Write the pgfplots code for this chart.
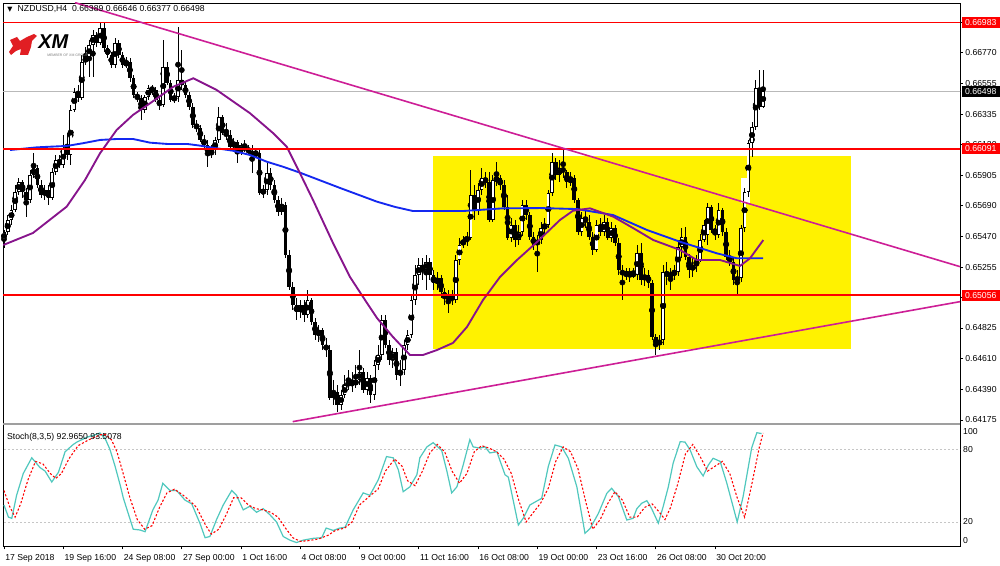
\documentclass[border=0pt]{standalone}
\usepackage{fontspec}
\setmainfont{Liberation Sans}
\newfontfamily\symfont{DejaVu Sans}
\usepackage{pgfplots}
\pgfplotsset{compat=1.18}
\usepackage{pgfplotstable}

\definecolor{trend}{RGB}{205,30,150}
\definecolor{maslow}{RGB}{20,40,240}
\definecolor{mafast}{RGB}{135,20,140}
\definecolor{stochmain}{RGB}{80,200,190}
\definecolor{xmred}{RGB}{225,30,35}
\newcommand\mtfont{\fontsize{6.5}{7.8}\selectfont}

% NZDUSD H4 candles: bar index, open, high, low, close
\pgfplotstableread{
i o h l c
0 0.65446 0.65517 0.65390 0.65503
1 0.65503 0.65623 0.65482 0.65588
2 0.65588 0.65694 0.65552 0.65658
3 0.65658 0.65835 0.65644 0.65786
4 0.65786 0.65884 0.65764 0.65856
5 0.65856 0.65870 0.65743 0.65786
6 0.65786 0.65814 0.65609 0.65729
7 0.65729 0.65941 0.65708 0.65906
8 0.65906 0.66061 0.65884 0.65955
9 0.65955 0.65976 0.65814 0.65835
10 0.65835 0.65870 0.65743 0.65764
11 0.65764 0.65835 0.65729 0.65800
12 0.65800 0.65835 0.65694 0.65743
13 0.65743 0.65955 0.65729 0.65927
14 0.65927 0.66047 0.65906 0.66012
15 0.66012 0.66047 0.65955 0.65976
16 0.65976 0.66188 0.65955 0.66096
17 0.66096 0.66202 0.66012 0.66047
18 0.66047 0.66400 0.65976 0.66365
19 0.66365 0.66520 0.66351 0.66492
20 0.66492 0.66541 0.66421 0.66450
21 0.66450 0.66753 0.66435 0.66704
22 0.66704 0.66810 0.66683 0.66739
23 0.66739 0.66859 0.66598 0.66824
24 0.66824 0.66930 0.66598 0.66895
25 0.66895 0.66916 0.66810 0.66838
26 0.66838 0.66980 0.66824 0.66944
27 0.66944 0.66980 0.66775 0.66803
28 0.66803 0.66824 0.66732 0.66753
29 0.66753 0.66775 0.66662 0.66683
30 0.66683 0.66874 0.66662 0.66838
31 0.66838 0.66859 0.66732 0.66753
32 0.66753 0.66775 0.66662 0.66683
33 0.66683 0.66739 0.66662 0.66704
34 0.66704 0.66732 0.66563 0.66591
35 0.66591 0.66612 0.66450 0.66471
36 0.66471 0.66492 0.66421 0.66450
37 0.66450 0.66471 0.66294 0.66365
38 0.66365 0.66471 0.66344 0.66457
39 0.66457 0.66541 0.66435 0.66520
40 0.66520 0.66541 0.66471 0.66506
41 0.66506 0.66527 0.66421 0.66435
42 0.66435 0.66457 0.66365 0.66400
43 0.66400 0.66859 0.66386 0.66669
44 0.66669 0.66704 0.66541 0.66556
45 0.66556 0.66577 0.66421 0.66435
46 0.66435 0.66485 0.66414 0.66457
47 0.66457 0.66951 0.66421 0.66577
48 0.66577 0.66789 0.66506 0.66541
49 0.66541 0.66563 0.66450 0.66471
50 0.66471 0.66492 0.66365 0.66386
51 0.66386 0.66414 0.66238 0.66259
52 0.66259 0.66294 0.66209 0.66238
53 0.66238 0.66259 0.66139 0.66153
54 0.66153 0.66188 0.66096 0.66118
55 0.66118 0.66153 0.65962 0.66047
56 0.66047 0.66118 0.66026 0.66082
57 0.66082 0.66174 0.66047 0.66153
58 0.66153 0.66386 0.66132 0.66315
59 0.66315 0.66330 0.66188 0.66202
60 0.66202 0.66273 0.66153 0.66188
61 0.66188 0.66224 0.66082 0.66103
62 0.66103 0.66167 0.66082 0.66139
63 0.66139 0.66153 0.65990 0.66061
64 0.66061 0.66132 0.66047 0.66118
65 0.66118 0.66153 0.66068 0.66096
66 0.66096 0.66118 0.66047 0.66068
67 0.66068 0.66118 0.65920 0.66047
68 0.66047 0.66096 0.66026 0.66061
69 0.66061 0.66082 0.65764 0.65778
70 0.65778 0.65835 0.65743 0.65800
71 0.65800 0.65990 0.65764 0.65920
72 0.65920 0.65955 0.65800 0.65835
73 0.65835 0.65870 0.65708 0.65729
74 0.65729 0.65757 0.65616 0.65644
75 0.65644 0.65743 0.65623 0.65694
76 0.65694 0.65715 0.65319 0.65340
77 0.65340 0.65376 0.65093 0.65114
78 0.65114 0.65150 0.64952 0.64987
79 0.64987 0.65037 0.64881 0.64938
80 0.64938 0.65022 0.64895 0.64987
81 0.64987 0.65022 0.64867 0.64917
82 0.64917 0.65093 0.64895 0.65022
83 0.65022 0.65037 0.64846 0.64867
84 0.64867 0.64895 0.64740 0.64775
85 0.64775 0.64846 0.64726 0.64811
86 0.64811 0.64825 0.64669 0.64705
87 0.64705 0.64754 0.64620 0.64669
88 0.64669 0.64705 0.64316 0.64330
89 0.64330 0.64457 0.64281 0.64373
90 0.64373 0.64422 0.64231 0.64281
91 0.64281 0.64387 0.64245 0.64351
92 0.64351 0.64493 0.64330 0.64422
93 0.64422 0.64528 0.64387 0.64443
94 0.64443 0.64514 0.64373 0.64422
95 0.64422 0.64563 0.64401 0.64457
96 0.64457 0.64669 0.64422 0.64514
97 0.64514 0.64542 0.64365 0.64387
98 0.64387 0.64514 0.64351 0.64471
99 0.64471 0.64493 0.64295 0.64351
100 0.64351 0.64599 0.64316 0.64563
101 0.64563 0.64705 0.64528 0.64634
102 0.64634 0.64917 0.64599 0.64881
103 0.64881 0.64917 0.64683 0.64705
104 0.64705 0.64740 0.64563 0.64599
105 0.64599 0.64683 0.64542 0.64655
106 0.64655 0.64683 0.64457 0.64493
107 0.64493 0.64599 0.64415 0.64528
108 0.64528 0.64740 0.64493 0.64705
109 0.64705 0.64811 0.64669 0.64775
110 0.64775 0.65058 0.64754 0.65022
111 0.65022 0.65270 0.64987 0.65199
112 0.65199 0.65319 0.65128 0.65270
113 0.65270 0.65319 0.65164 0.65234
114 0.65234 0.65340 0.65093 0.65291
115 0.65291 0.65319 0.65164 0.65199
116 0.65199 0.65234 0.65093 0.65143
117 0.65143 0.65220 0.65093 0.65178
118 0.65178 0.65199 0.65037 0.65079
119 0.65079 0.65107 0.64987 0.65037
120 0.65037 0.65093 0.64931 0.65051
121 0.65051 0.65093 0.64987 0.65022
122 0.65022 0.65340 0.65001 0.65305
123 0.65305 0.65461 0.65270 0.65411
124 0.65411 0.65475 0.65390 0.65446
125 0.65446 0.65503 0.65404 0.65461
126 0.65461 0.65941 0.65446 0.65764
127 0.65764 0.65835 0.65588 0.65658
128 0.65658 0.65849 0.65623 0.65800
129 0.65800 0.65955 0.65764 0.65884
130 0.65884 0.65927 0.65814 0.65856
131 0.65856 0.65927 0.65574 0.65588
132 0.65588 0.65906 0.65574 0.65870
133 0.65870 0.65997 0.65828 0.65884
134 0.65884 0.65906 0.65800 0.65835
135 0.65835 0.65870 0.65658 0.65680
136 0.65680 0.65764 0.65446 0.65461
137 0.65461 0.65602 0.65432 0.65552
138 0.65552 0.65588 0.65397 0.65446
139 0.65446 0.65552 0.65411 0.65503
140 0.65503 0.65729 0.65475 0.65694
141 0.65694 0.65729 0.65588 0.65623
142 0.65623 0.65644 0.65446 0.65468
143 0.65468 0.65503 0.65376 0.65411
144 0.65411 0.65482 0.65220 0.65446
145 0.65446 0.65574 0.65418 0.65531
146 0.65531 0.65602 0.65489 0.65552
147 0.65552 0.65800 0.65531 0.65778
148 0.65778 0.66061 0.65757 0.65997
149 0.65997 0.66026 0.65870 0.65906
150 0.65906 0.66012 0.65856 0.65955
151 0.65955 0.66082 0.65884 0.65927
152 0.65927 0.65941 0.65814 0.65856
153 0.65856 0.65927 0.65828 0.65884
154 0.65884 0.65906 0.65708 0.65729
155 0.65729 0.65743 0.65482 0.65503
156 0.65503 0.65644 0.65475 0.65602
157 0.65602 0.65658 0.65531 0.65574
158 0.65574 0.65623 0.65446 0.65468
159 0.65468 0.65503 0.65340 0.65376
160 0.65376 0.65588 0.65362 0.65552
161 0.65552 0.65602 0.65475 0.65503
162 0.65503 0.65623 0.65475 0.65574
163 0.65574 0.65602 0.65446 0.65461
164 0.65461 0.65574 0.65432 0.65531
165 0.65531 0.65552 0.65404 0.65425
166 0.65425 0.65461 0.65199 0.65234
167 0.65234 0.65270 0.65022 0.65199
168 0.65199 0.65249 0.65164 0.65220
169 0.65220 0.65249 0.65150 0.65199
170 0.65199 0.65249 0.65178 0.65213
171 0.65199 0.65411 0.65164 0.65355
172 0.65355 0.65425 0.65128 0.65164
173 0.65164 0.65249 0.65121 0.65199
174 0.65199 0.65234 0.65107 0.65143
175 0.65143 0.65164 0.64740 0.64761
176 0.64761 0.64782 0.64634 0.64705
177 0.64705 0.64775 0.64669 0.64740
178 0.64740 0.65270 0.64705 0.65220
179 0.65220 0.65291 0.65128 0.65192
180 0.65192 0.65249 0.65093 0.65206
181 0.65206 0.65270 0.65164 0.65220
182 0.65220 0.65446 0.65192 0.65397
183 0.65397 0.65531 0.65319 0.65468
184 0.65468 0.65538 0.65305 0.65326
185 0.65326 0.65348 0.65178 0.65234
186 0.65234 0.65319 0.65185 0.65270
187 0.65270 0.65340 0.65220 0.65305
188 0.65305 0.65489 0.65291 0.65446
189 0.65446 0.65588 0.65432 0.65552
190 0.65482 0.65708 0.65411 0.65680
191 0.65680 0.65694 0.65496 0.65517
192 0.65517 0.65552 0.65446 0.65503
193 0.65482 0.65708 0.65461 0.65658
194 0.65658 0.65672 0.65475 0.65503
195 0.65503 0.65531 0.65305 0.65326
196 0.65326 0.65376 0.65263 0.65291
197 0.65291 0.65319 0.65128 0.65164
198 0.65164 0.65234 0.65058 0.65178
199 0.65178 0.65552 0.65150 0.65531
200 0.65531 0.65814 0.65503 0.65786
201 0.65786 0.66153 0.65750 0.66132
202 0.66132 0.66280 0.66033 0.66245
203 0.66245 0.66577 0.66224 0.66520
204 0.66520 0.66647 0.66365 0.66386
205 0.66389 0.66646 0.66377 0.66498
}\candles

\begin{document}
\begin{tikzpicture}[x=0.75pt,y=0.75pt,font=\mtfont]
\fill[white] (0,0) rectangle (1000,566);

% ---- price panel ----
\begin{axis}[
  at={(2.25pt,106.275pt)}, anchor=south west,
  scale only axis, width=717.75pt, height=315.975pt,
  xmin=-0.27, xmax=258.17, ymin=0.641443, ymax=0.671208,
  clip mode=individual,
  xtick=\empty,
  ytick={0.64175,0.64390,0.64610,0.64825,0.65255,0.65470,0.65690,0.65905,0.66120,0.66335,0.66555,0.66770},
  extra y ticks={0.65040,0.66985}, extra y tick labels={},
  ytick pos=right, yticklabel pos=right,
  tick align=outside, major tick length=2.25pt,
  scaled y ticks=false,
  tick style={black, line width=0.5pt},
  axis line style={black, line width=0.6pt},
  y tick label style={/pgf/number format/.cd, fixed, fixed zerofill, precision=5, assume math mode=true, /tikz/.cd, font=\mtfont, anchor=west, inner xsep=1.5pt},
]
% analysis box
\addplot[fill=yellow, draw=none] coordinates {(115.77,0.646745) (228.73,0.646745) (228.73,0.660423) (115.77,0.660423)} -- cycle;
\addplot[fill=white, draw=none] coordinates {(198.9,0.65706) (201.5,0.65706) (201.5,0.65887) (198.9,0.65887)} -- cycle;
% bid line
\addplot[gray!55, line width=0.5pt] coordinates {(-1,0.66498) (260,0.66498)};
% wicks
\addplot[only marks, mark=none, error bars/.cd, y dir=both, y explicit, error mark=none,
  error bar style={black, line width=0.55pt}]
  table[x=i, y expr={(\thisrow{h}+\thisrow{l})/2}, y error expr={(\thisrow{h}-\thisrow{l})/2}] {\candles};
% bodies
\addplot[only marks, mark=none, error bars/.cd, y dir=both, y explicit, error mark=none,
  error bar style={black, line width=2.7pt, line cap=butt}]
  table[x=i, y expr={(\thisrow{o}+\thisrow{c})/2}, y error expr={max(abs(\thisrow{c}-\thisrow{o})/2,0.00004)}] {\candles};
% white inside of up candles
\addplot[only marks, mark=none, restrict expr to domain={\thisrow{c}-\thisrow{o}}{0.00001:1},
  error bars/.cd, y dir=both, y explicit, error mark=none,
  error bar style={white, line width=1.6pt, line cap=butt}]
  table[x=i, y expr={(\thisrow{o}+\thisrow{c})/2}, y error expr={max(abs(\thisrow{c}-\thisrow{o})/2-0.00006,0)}] {\candles};
% moving averages
\addplot[maslow, line width=1.4pt] coordinates {
(1.62,0.66082) (8.91,0.66101) (17.01,0.66111) (21.33,0.66130) (25.93,0.66153) (30.52,0.66160)
(34.84,0.66160) (39.43,0.66134) (44.02,0.66125) (49.42,0.66125) (52.93,0.66113) (57.52,0.66094)
(61.84,0.66077) (66.43,0.66047) (71.02,0.65999) (75.34,0.65964) (79.93,0.65922) (90.74,0.65814)
(100.73,0.65717) (105.59,0.65680) (110.45,0.65651) (123.95,0.65651) (134.76,0.65670) (144.75,0.65672)
(154.74,0.65665) (164.46,0.65623) (173.64,0.65517) (182.55,0.65434) (192.54,0.65352) (197.95,0.65317)
(204.97,0.65317)};
\addplot[mafast, line width=1.4pt] coordinates {
(-0.19,0.65411) (7.83,0.65496) (16.93,0.65682) (21.87,0.65870) (25.93,0.66059) (30.43,0.66224)
(34.84,0.66330) (39.43,0.66412) (45.72,0.66529) (51.12,0.66589) (57.44,0.66506) (66.43,0.66342)
(72.73,0.66200) (76.34,0.66106) (79.93,0.65918) (83.45,0.65729) (88.85,0.65425) (93.44,0.65185)
(98.03,0.65001) (100.73,0.64895) (105.05,0.64761) (109.64,0.64634) (113.15,0.64634) (116.93,0.64669)
(121.25,0.64719) (125.03,0.64832) (129.35,0.65022) (133.94,0.65185) (138.54,0.65305) (143.94,0.65432)
(150.15,0.65588) (153.66,0.65653) (158.25,0.65670) (164.54,0.65611) (169.86,0.65531) (175.34,0.65446)
(182.55,0.65376) (187.06,0.65305) (193.36,0.65305) (198.76,0.65263) (201.46,0.65317) (205.05,0.65446)};
% horizontal levels
\addplot[red, line width=1.3pt] coordinates {(-1,0.66983) (260,0.66983)};
\addplot[red, line width=1.3pt] coordinates {(-1,0.66091) (260,0.66091)};
\addplot[red, line width=1.3pt] coordinates {(-1,0.65056) (260,0.65056)};
% trend lines
\addplot[trend, line width=1.2pt] coordinates {(19.17,0.671233) (258.17,0.652581)};
\addplot[trend, line width=1.2pt] coordinates {(77.96,0.64163) (258.17,0.650108)};
% price tags
\node[fill=red, text=white, anchor=west, inner xsep=2.4pt, inner ysep=0pt, minimum height=8.25pt, xshift=1.2pt] at (axis cs:258.17,0.66983) {0.66983};
\node[fill=red, text=white, anchor=west, inner xsep=2.4pt, inner ysep=0pt, minimum height=8.25pt, xshift=1.2pt] at (axis cs:258.17,0.66091) {0.66091};
\node[fill=red, text=white, anchor=west, inner xsep=2.4pt, inner ysep=0pt, minimum height=8.25pt, xshift=1.2pt] at (axis cs:258.17,0.65056) {0.65056};
\node[fill=black, text=white, anchor=west, inner xsep=2.4pt, inner ysep=0pt, minimum height=8.25pt, xshift=1.2pt] at (axis cs:258.17,0.66498) {0.66498};
\end{axis}

% ---- stochastic panel ----
\begin{axis}[
  at={(2.25pt,14.775pt)}, anchor=south west,
  scale only axis, width=717.75pt, height=91.5pt,
  xmin=-0.27, xmax=258.17, ymin=-0.08, ymax=100.66,
  clip mode=individual,
  ytick=\empty,
  xtick={0,16,...,192},
  xticklabels={17 Sep 2018,19 Sep 16:00,24 Sep 08:00,27 Sep 00:00,1 Oct 16:00,4 Oct 08:00,9 Oct 00:00,11 Oct 16:00,16 Oct 08:00,19 Oct 00:00,23 Oct 16:00,26 Oct 08:00,30 Oct 20:00},
  xtick pos=left, tick align=outside, major tick length=2.25pt,
  tick style={black, line width=0.5pt},
  axis line style={black, line width=0.6pt},
  x tick label style={font=\mtfont, anchor=north west, inner xsep=0.8pt},
]
\addplot[gray!45, line width=0.5pt, dash pattern=on 1.5pt off 1.5pt] coordinates {(-1,80) (260,80)};
\addplot[gray!45, line width=0.5pt, dash pattern=on 1.5pt off 1.5pt] coordinates {(-1,20) (260,20)};
\addplot[stochmain, line width=0.9pt] coordinates {
(0,34) (1.2,24) (2.1,23) (3.4,42) (5.2,60) (7.5,73) (9.7,65) (11.1,62) (12.9,53) (14.7,61)
(16.5,78) (18.7,84) (19.7,86) (22.4,90) (24.6,92) (25.9,93.5) (27.3,89) (28.6,80) (30,66) (31.5,49)
(32.2,40) (34.9,14) (36.7,13.4) (38.1,12) (40.2,30) (41.6,38) (42.9,52) (44.8,46) (46.6,46) (48.9,38)
(50.7,35) (52.9,19) (54.3,7) (55.6,8) (57.4,22) (59.2,34) (61.5,46) (62.8,42) (64.6,30) (66.4,33)
(68.2,28) (70,31) (71.8,26) (73.6,20) (75.4,8) (77.2,5) (79,3) (80.8,5) (83.5,6.5) (85.8,7)
(87,15) (88.9,13) (90.7,15) (92.1,15.6) (94.3,30) (97,44) (98.8,42) (101.1,55) (103.3,74) (105.1,73)
(106.5,63) (107.8,45) (109.6,49) (111.5,59) (112.3,73) (114.2,82) (115.9,85.5) (118.2,79) (119.6,62) (120.9,44)
(122.3,49) (124,67) (125.8,88) (126.7,82) (128.5,81) (129.9,82) (131.2,77) (133.1,78) (133.9,71) (135.3,59)
(136.2,57) (138.9,17.5) (140.2,23) (142,34) (144.3,38) (145.2,39.5) (147,66) (148.8,83.6) (150.6,82) (152.4,72.6)
(154.7,49) (156.9,10.6) (158.3,14.8) (160.5,27) (162.8,43.7) (164.1,47.8) (165.9,41) (168.2,21.6) (169.9,23) (170.9,31)
(172.2,35.4) (173.6,37.6) (174.9,31) (176.7,19) (178,32.6) (179.4,49) (180.7,68.5) (182.6,86.3) (183.9,86) (185.3,79.4)
(187.1,65.6) (188.8,58) (190.2,67) (191.5,72.6) (193.4,70) (195.2,52) (196.9,32.6) (198,20) (199.6,41) (201.9,81)
(203.3,93.7) (204.6,93)};
\addplot[red, line width=0.8pt, dash pattern=on 1.6pt off 1.4pt] coordinates {
(0,46) (1.5,33) (3,24) (4.5,35) (6.5,55) (8.5,70) (10.5,68) (12.5,60) (14,56) (15.5,60)
(17.5,72) (20,83) (23,88) (26,92) (27.5,92) (29,88) (30.5,78) (32,62) (34,40) (36,22)
(38,14) (40,17) (42,32) (44,44) (46,47) (48,43) (50,38) (52,32) (54.5,17) (56,10)
(58,14) (60,26) (62,40) (64,40) (66,34) (68,31) (70,30) (72,28) (74,24) (76,15)
(78,7) (80,4) (82,4.5) (85,6) (87.5,9) (89.5,13) (92,15) (94,20) (96,34) (99,42)
(101,47) (103,62) (105.5,72) (107.5,66) (109,54) (111,50) (113,62) (115,77) (117,84) (119,78)
(121,62) (123,52) (125,60) (127,78) (129,83) (131,81) (133,78) (135,72) (137,60) (139,38)
(141,20) (143,28) (145,36) (147,48) (149,70) (151,82) (153,78) (155,64) (157,38) (159,14)
(161,22) (163,35) (165,45) (167,38) (169,24) (171,24) (173,32) (175,35) (177,28) (178.5,22)
(180,32) (182,52) (184,76) (186,84) (188,74) (190,62) (192,66) (194,70) (196,60) (198,40)
(200,24) (202,52) (204,82) (205,93.5)};
\node[anchor=west, inner xsep=1pt, xshift=1.2pt] at (axis cs:258.17,95) {100};
\node[anchor=west, inner xsep=1pt, xshift=1.2pt] at (axis cs:258.17,80) {80};
\node[anchor=west, inner xsep=1pt, xshift=1.2pt] at (axis cs:258.17,20) {20};
\node[anchor=west, inner xsep=1pt, xshift=1.2pt] at (axis cs:258.17,4.3) {0};
\node[anchor=west, inner sep=0pt] at (axis description cs:0.004,0.89) {Stoch(8,3,5) 92.9650 93.5078};
\end{axis}

% panel separator
\draw[gray!75, line width=2.2pt] (3,142) -- (960,142);

% header and logo
\node[anchor=west, inner sep=0pt] at (7,557) {{\symfont\fontsize{5}{5}\selectfont ▼}\hspace{4pt}NZDUSD,H4\ \ 0.66389 0.66646 0.66377 0.66498};
\fill[xmred] (10,526) -- (17,529) -- (20,525) -- (27,529) -- (34,532) -- (37,530) -- (32,525) -- (31,519)
  -- (28,511) -- (20,511) -- (21,517) -- (16,515) -- (11,511) -- (9,514) -- (13,520) -- cycle;
\node[anchor=west, inner sep=0pt, font=\fontsize{15}{15}\selectfont\bfseries\itshape] at (38,524) {XM};
\node[anchor=north west, inner sep=0pt, font=\fontsize{2.6}{3}\selectfont, text=gray] at (47,512.5) {MEMBER OF XM GROUP};

\pgfresetboundingbox
\path[use as bounding box] (0,0) rectangle (1000,566);
\end{tikzpicture}
\end{document}
